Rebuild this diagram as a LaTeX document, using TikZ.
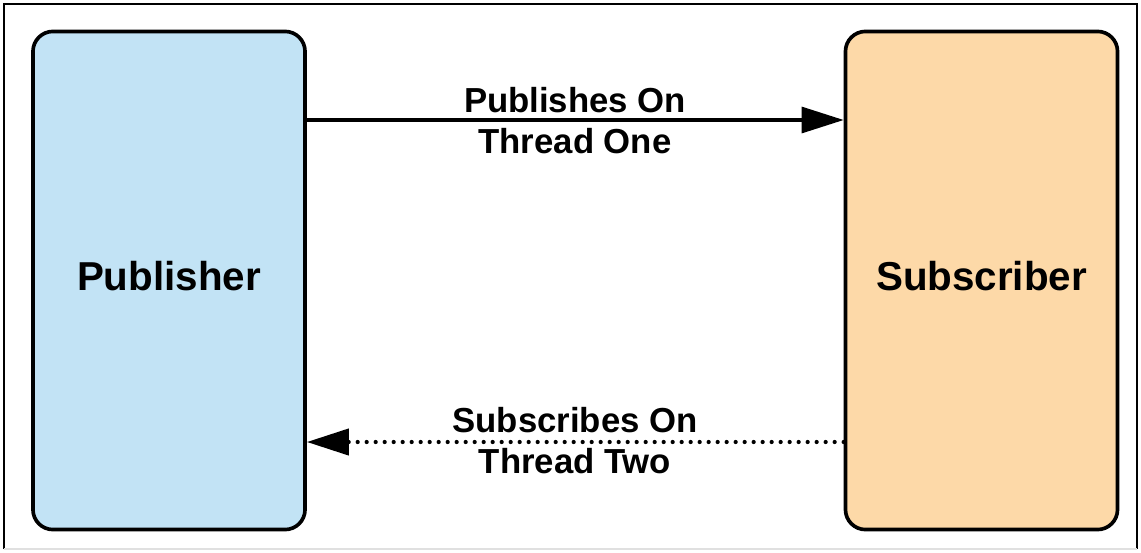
\documentclass[tikz,border=0pt]{standalone}
\usepackage{fontspec}
\setmainfont{Liberation Sans}
\usetikzlibrary{arrows.meta}
\definecolor{pubblue}{RGB}{194,227,245}
\definecolor{suborange}{RGB}{253,217,168}
\tikzset{
  party/.style={rounded corners=0.5cm, draw=black, line width=2.6pt, minimum width=6.8cm, minimum height=12.45cm, text depth=0.25cm, font=\fontsize{28.7}{32}\selectfont\bfseries},
  flow/.style={line width=2.2pt, -{Triangle[length=1.05cm, width=0.65cm]}},
  reply/.style={flow, line width=3pt, line cap=round, dash pattern=on 0pt off 6.4pt},
  flowlabel/.style={align=center, font=\fontsize{24.7}{29.2}\selectfont\bfseries},
  frame/.style={line width=1.5pt, draw=black},
}

\begin{document}
\begin{tikzpicture}[x=0.025cm, y=-0.025cm]
\useasboundingbox (0,0) rectangle (1141,552);
\draw[frame] (4,549) -- (4,4) -- (1137,4) -- (1137,549);
\draw[frame, draw=black!12] (4,549) -- (1137,549);
\node[party, fill=pubblue] (pub) at (169,280.5) {Publisher};
\node[party, fill=suborange] (sub) at (981.5,280.5) {Subscriber};
\draw[flow] (pub.east |- 0,120) -- (sub.west |- 0,120);
\draw[reply] (sub.west |- 0,442) -- (pub.east |- 0,442);
\node[flowlabel] (pubon) at (575,120.5) {Publishes On\\Thread One};
\node[flowlabel] (subon) at (575,440.5) {Subscribes On\\Thread Two};
\end{tikzpicture}
\end{document}
